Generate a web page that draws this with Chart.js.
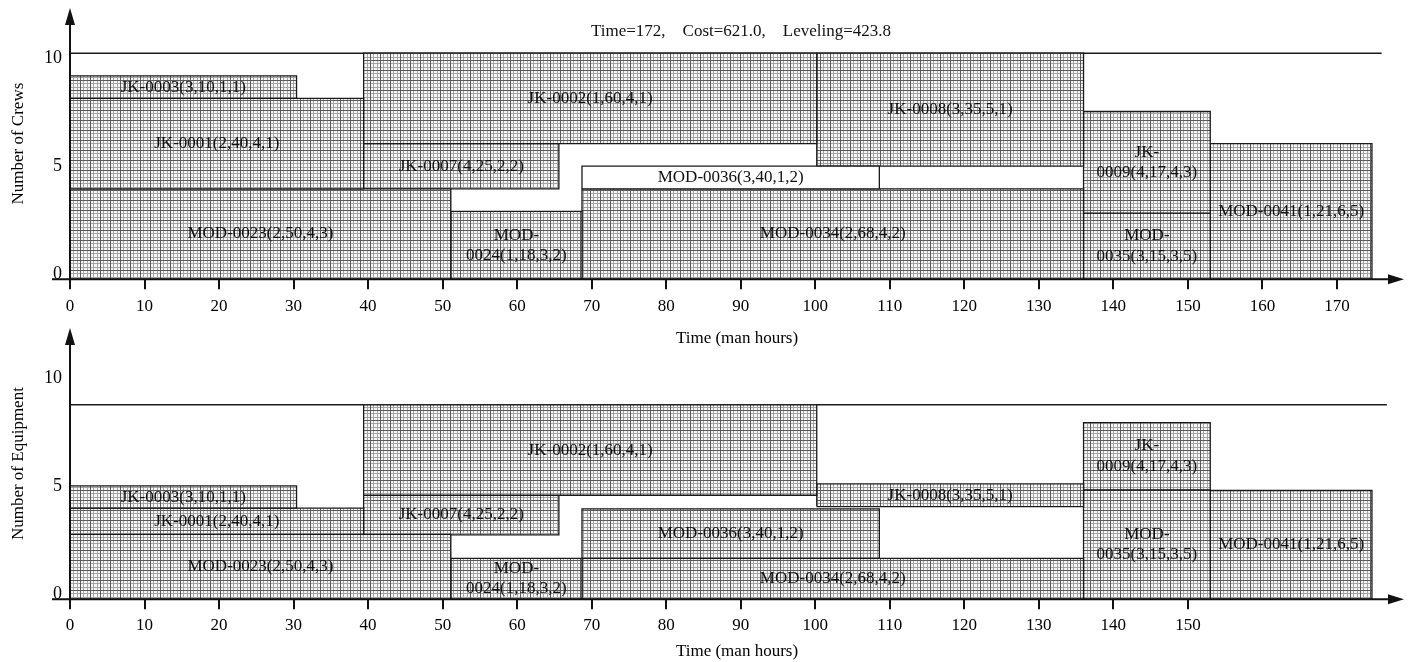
<!DOCTYPE html>
<html>
<head>
<meta charset="utf-8">
<title>Resource profiles</title>
<script src="https://cdn.jsdelivr.net/npm/chart.js@4.4.0/dist/chart.umd.min.js"></script>
<style>
  body { margin: 0; background: #fff; }
  #wrap { position: relative; width: 1424px; height: 662px; overflow: hidden; }
  canvas { position: absolute; left: 0; }
  #crews { top: 0; }
  #equip { top: 320px; }
</style>
</head>
<body>
<div id="wrap">
  <canvas id="crews" width="1424" height="349"></canvas>
  <canvas id="equip" width="1424" height="342"></canvas>
</div>
<script>
// activities: name, start and finish time (man hours)
const taskNames = ['JK-0003(3,10,1,1)', 'JK-0001(2,40,4,1)', 'MOD-0023(2,50,4,3)', 'JK-0002(1,60,4,1)',
    'JK-0007(4,25,2,2)', 'MOD-\n0024(1,18,3,2)', 'MOD-0036(3,40,1,2)', 'MOD-0034(2,68,4,2)',
    'JK-0008(3,35,5,1)', 'JK-\n0009(4,17,4,3)', 'MOD-\n0035(3,15,3,5)', 'MOD-0041(1,21,6,5)'];
const taskStart = [0, 0, 0, 39.4, 39.4, 51.1, 68.7, 68.7, 100.2, 136, 136, 153];
const taskEnd   = [30.4, 39.4, 51.1, 100.2, 65.6, 68.7, 108.6, 136, 136, 153, 153, 174.7];

// crews profile (bottom / top of each block)
const crewLow  = [8, 4, 0, 6, 4, 0, 4, 0, 5, 2.92, 0, 0];
const crewHigh = [9, 8, 4, 10, 6, 3, 5, 4, 10, 7.42, 2.92, 6];
const crewLimit = 10;
const crewLimitEnd = 176.0;
const crewBlank = ['MOD-0036(3,40,1,2)'];

// equipment profile
const equipLow  = [4.03, 2.87, 0, 4.6, 2.85, 0, 1.81, 0, 4.1, 4.84, 0, 0];
const equipHigh = [5.01, 4.03, 2.87, 8.6, 4.6, 1.81, 4.0, 1.81, 5.1, 7.81, 4.84, 4.81];
const equipLimit = 8.6;
const equipLimitEnd = 176.7;
const equipBlank = [];

const crewTicks = [0, 10, 20, 30, 40, 50, 60, 70, 80, 90, 100, 110, 120, 130, 140, 150, 160, 170];
const equipTicks = [0, 10, 20, 30, 40, 50, 60, 70, 80, 90, 100, 110, 120, 130, 140, 150];
const yTicks = [0, 5, 10];

const summary = 'Time=172,    Cost=621.0,    Leveling=423.8';

const serif = '"Liberation Serif", "Times New Roman", serif';

// plaid hatching: one dark and two light lines per 10px
function makeHatch(ctx) {
    let tile = document.createElement('canvas');
    tile.width = 10;
    tile.height = 10;
    let g = tile.getContext('2d');
    g.fillStyle = '#f6f6f6';
    g.fillRect(0, 0, 10, 10);
    g.fillStyle = '#a4a4a4';
    [3, 7].forEach(function(p) {
        g.fillRect(0, p, 10, 1);
        g.fillRect(p, 0, 1, 10);
    });
    g.fillStyle = '#5a5a5a';
    g.fillRect(0, 0, 10, 1);
    g.fillRect(0, 0, 1, 10);
    return ctx.createPattern(tile, 'repeat');
}

function rectPoints(i, low, high) {
    return [
        {x: taskStart[i], y: low[i]},
        {x: taskEnd[i], y: low[i]},
        {x: taskEnd[i], y: high[i]},
        {x: taskStart[i], y: high[i]},
        {x: taskStart[i], y: low[i]}
    ];
}

function profilePlugin(low, high, title) {
    return {
        id: 'profile',
        afterDatasetsDraw(chart) {
            let ctx = chart.ctx;
            let xs = chart.scales.x, ys = chart.scales.y;
            let area = chart.chartArea;
            let x0 = xs.getPixelForValue(0), y0 = ys.getPixelForValue(0);
            ctx.save();

            // activity labels, centred in their block
            ctx.fillStyle = '#111';
            ctx.font = '17px ' + serif;
            ctx.textAlign = 'center';
            ctx.textBaseline = 'middle';
            taskNames.forEach(function(name, i) {
                let cx = xs.getPixelForValue((taskStart[i] + taskEnd[i]) / 2);
                let cy = ys.getPixelForValue((low[i] + high[i]) / 2);
                let lines = name.split('\n');
                lines.forEach(function(line, k) {
                    ctx.fillText(line, cx, cy + (k - (lines.length - 1) / 2) * 20.5);
                });
            });

            if (title) {
                ctx.fillText(title, (area.left + area.right) / 2 + 4, 32);
            }

            // axes with arrow heads
            ctx.strokeStyle = '#111';
            ctx.lineWidth = 2;
            ctx.beginPath();
            ctx.moveTo(area.left - 18, y0);
            ctx.lineTo(area.right - 10, y0);
            ctx.moveTo(x0, y0 + 3);
            ctx.lineTo(x0, area.top + 12);
            ctx.stroke();
            ctx.beginPath();
            ctx.moveTo(area.right, y0);
            ctx.lineTo(area.right - 16, y0 - 5);
            ctx.lineTo(area.right - 16, y0 + 5);
            ctx.closePath();
            ctx.moveTo(x0, area.top);
            ctx.lineTo(x0 - 5, area.top + 17);
            ctx.lineTo(x0 + 5, area.top + 17);
            ctx.closePath();
            ctx.fill();
            ctx.restore();
        }
    };
}

function drawProfile(id, low, high, blank, limit, limitEnd, xTicks, yTitle, tickPad, titlePad, axisHeight, title) {
    let ctx = document.getElementById(id).getContext('2d');
    let hatch = makeHatch(ctx);
    let datasets = taskNames.map(function(name, i) {
        return {
            label: name,
            data: rectPoints(i, low, high),
            fill: 'shape',
            backgroundColor: blank.includes(name) ? '#ffffff' : hatch,
            borderColor: '#1a1a1a',
            borderWidth: 1.3
        };
    });
    datasets.push({
        label: 'limit',
        data: [{x: 0, y: limit}, {x: limitEnd, y: limit}],
        fill: false,
        borderColor: '#1a1a1a',
        borderWidth: 1.5
    });

    return new Chart(ctx, {
        type: 'line',
        data: {datasets: datasets},
        options: {
            responsive: false,
            animation: false,
            events: [],
            layout: {padding: {left: 4, top: 8, right: 20, bottom: 0}},
            elements: {point: {radius: 0}, line: {tension: 0}},
            plugins: {legend: {display: false}, tooltip: {enabled: false}},
            scales: {
                x: {
                    type: 'linear',
                    min: 0,
                    max: 179,
                    afterBuildTicks: function(scale) {
                        scale.ticks = xTicks.map(v => ({value: v}));
                    },
                    afterFit: function(scale) {
                        scale.height = axisHeight;
                        scale.paddingLeft = 0;
                        scale.paddingRight = 0;
                    },
                    grid: {drawOnChartArea: false, tickLength: 10, color: '#111', lineWidth: 2},
                    border: {display: false},
                    ticks: {color: '#000', font: {family: serif, size: 17}, padding: tickPad, maxRotation: 0, autoSkip: false},
                    title: {display: true, text: 'Time (man hours)', color: '#000',
                        font: {family: serif, size: 17}, padding: {top: titlePad, bottom: 0}}
                },
                y: {
                    type: 'linear',
                    min: 0,
                    max: 12,
                    afterBuildTicks: function(scale) {
                        scale.ticks = yTicks.map(v => ({value: v}));
                    },
                    afterFit: function(scale) {
                        scale.width = 66;
                        scale.paddingTop = 0;
                        scale.paddingBottom = 0;
                    },
                    grid: {display: false, drawTicks: false},
                    border: {display: false},
                    ticks: {
                        color: '#000',
                        font: {family: serif, size: 18, lineHeight: 0.6},
                        padding: 8,
                        // lowest label sits just above the axis, top one just under the limit line
                        callback: function(value) {
                            if (value === yTicks[0]) return [String(value), ''];
                            if (value === yTicks[yTicks.length - 1]) return ['', String(value)];
                            return String(value);
                        }
                    },
                    title: {display: true, text: yTitle, color: '#000',
                        font: {family: serif, size: 17}, padding: {top: 4, bottom: 0}}
                }
            }
        },
        plugins: [profilePlugin(low, high, title)]
    });
}

drawProfile('crews', crewLow, crewHigh, crewBlank, crewLimit, crewLimitEnd, crewTicks,
    'Number of Crews', 7, 5, 69.8, summary);
drawProfile('equip', equipLow, equipHigh, equipBlank, equipLimit, equipLimitEnd, equipTicks,
    'Number of Equipment', 6, 0, 62.8, null);
</script>
</body>
</html>
